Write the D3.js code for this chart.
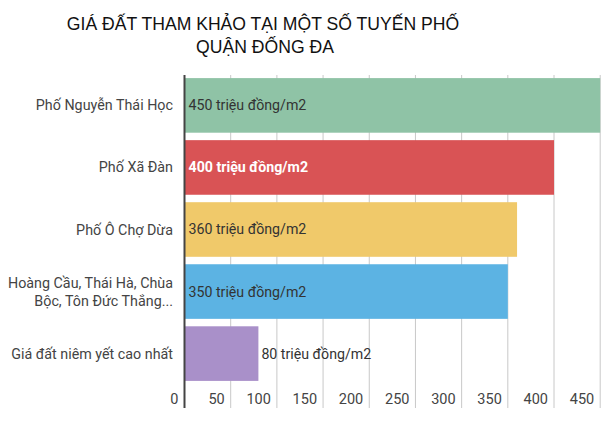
<!DOCTYPE html>
<html>
<head>
<meta charset="utf-8">
<script src="https://cdn.jsdelivr.net/npm/d3@7"></script>
<style>
  body { margin: 0; background: #fff; }
  .title { font-family: "Liberation Sans", Arial, sans-serif; font-size: 17.6px; fill: #111; }
  .cat { font-family: Roboto, sans-serif; font-size: 14.3px; fill: #444; }
  .value { font-family: Roboto, sans-serif; font-size: 14.2px; fill: #333; }
  .tick text { font-family: Roboto, sans-serif; font-size: 14.5px; fill: #444; }
</style>
</head>
<body>
<div id="chart"></div>
<script>
// du lieu
const categories = [
  ["Phố Nguyễn Thái Học"],
  ["Phố Xã Đàn"],
  ["Phố Ô Chợ Dừa"],
  ["Hoàng Cầu, Thái Hà, Chùa", "Bộc, Tôn Đức Thắng..."],
  ["Giá đất niêm yết cao nhất"]
];
const values = [450, 400, 360, 350, 80];
const colors = ["#8fc3a6", "#d95355", "#f0c96a", "#5cb3e3", "#a990c9"];
const ticks = [0, 50, 100, 150, 200, 250, 300, 350, 400, 450];
const unit = " triệu đồng/m2";

const width = 609, height = 442;

const svg = d3.select("#chart").append("svg")
  .attr("width", width)
  .attr("height", height);

const x = d3.scaleLinear().domain([0, 450]).range([184.5, 600.2]);
const y = d3.scaleBand()
  .domain(d3.range(values.length))
  .range([75, 384])
  .paddingInner(0.12)
  .paddingOuter(0.05);

// luoi doc
svg.append("g")
  .selectAll("line")
  .data(ticks.slice(1))
  .join("line")
  .attr("x1", d => x(d)).attr("x2", d => x(d))
  .attr("y1", 75).attr("y2", 408)
  .attr("stroke", "#c8c8c8")
  .attr("stroke-width", 1);

// nhan truc x
svg.append("g")
  .attr("class", "tick")
  .selectAll("text")
  .data(ticks)
  .join("text")
  .attr("x", d => x(d) - 6)
  .attr("y", 404)
  .attr("text-anchor", "end")
  .text(d => d);

// cot
svg.append("g")
  .selectAll("rect")
  .data(values)
  .join("rect")
  .attr("x", x(0))
  .attr("y", (d, i) => y(i))
  .attr("width", d => x(d) - x(0))
  .attr("height", y.bandwidth())
  .attr("fill", (d, i) => colors[i]);

// truc 0
svg.append("line")
  .attr("x1", x(0)).attr("x2", x(0))
  .attr("y1", 75).attr("y2", 408)
  .attr("stroke", "#444")
  .attr("stroke-width", 2);

// nhan gia tri
svg.append("g")
  .selectAll("text")
  .data(values)
  .join("text")
  .attr("class", "value")
  .attr("x", d => d < 150 ? x(d) + 3 : x(0) + 4)
  .attr("y", (d, i) => y(i) + y.bandwidth() / 2)
  .attr("dy", "0.35em")
  .style("fill", (d, i) => i === 1 ? "#fff" : null)
  .style("font-weight", (d, i) => i === 1 ? "bold" : null)
  .text(d => d + unit);

// nhan hang muc
const cat = svg.append("g")
  .selectAll("text")
  .data(categories)
  .join("text")
  .attr("class", "cat")
  .attr("text-anchor", "end")
  .attr("x", 173)
  .attr("y", (d, i) => y(i) + y.bandwidth() / 2);
cat.selectAll("tspan")
  .data(d => d.map((t, j) => ({ t, j, n: d.length })))
  .join("tspan")
  .attr("x", 173)
  .attr("dy", d => d.j === 0 ? (0.35 - (d.n - 1) * 0.62) + "em" : "1.25em")
  .text(d => d.t);

// tieu de
const title = svg.append("text")
  .attr("class", "title")
  .attr("text-anchor", "middle");
title.append("tspan").attr("x", 263).attr("y", 30).text("GIÁ ĐẤT THAM KHẢO TẠI MỘT SỐ TUYẾN PHỐ");
title.append("tspan").attr("x", 265).attr("y", 53).text("QUẬN ĐỐNG ĐA");
</script>
</body>
</html>
